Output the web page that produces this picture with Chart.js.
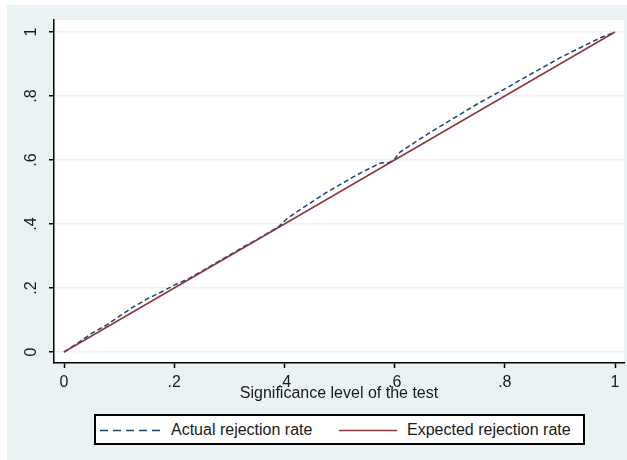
<!DOCTYPE html>
<html>
<head>
<meta charset="utf-8">
<script src="https://cdn.jsdelivr.net/npm/chart.js@4.4.0/dist/chart.umd.min.js"></script>
<style>
  html, body { margin: 0; padding: 0; background: #fff; }
  #wrap { position: relative; width: 627px; height: 460px; }
  #chart { position: absolute; left: 0; top: 0; }
  #legend {
    position: absolute; left: 94px; top: 414px; width: 491px; height: 31px;
    box-sizing: border-box; border: 2px solid #000; background: #fff;
    font-family: "Liberation Sans", Arial, sans-serif; font-size: 16px; color: #1a1a1a;
  }
  #legend span { position: absolute; line-height: 16px; top: 6px; white-space: nowrap; }
  #legend svg { position: absolute; top: 13px; }
</style>
</head>
<body>
<div id="wrap">
  <canvas id="chart" width="627" height="460"></canvas>
  <div id="legend">
    <svg style="left:4px" width="62" height="3"><line x1="0" y1="1.5" x2="62" y2="1.5" stroke="#1a476f" stroke-width="1.5" stroke-dasharray="8,5"/></svg>
    <span id="lab0" style="left:75px"></span>
    <svg style="left:243px" width="58" height="3"><line x1="0" y1="1.5" x2="58" y2="1.5" stroke="#90353b" stroke-width="1.5"/></svg>
    <span id="lab1" style="left:311px"></span>
  </div>
</div>
<script>
document.addEventListener("DOMContentLoaded", function () {
    const seriesNames = ['Actual rejection rate', 'Expected rejection rate'];
    const xTitle = 'Significance level of the test';
    const tickValues = [0, 0.2, 0.4, 0.6, 0.8, 1];
    const tickLabels = ['0', '.2', '.4', '.6', '.8', '1'];

    // significance levels and the rejection rates
    const actualLevel = [0, 0.025, 0.05, 0.075, 0.1, 0.125, 0.15, 0.175, 0.2, 0.225, 0.25, 0.275, 0.3, 0.325,
        0.35, 0.375, 0.39, 0.405, 0.425, 0.45, 0.475, 0.5, 0.525, 0.55, 0.575, 0.59, 0.6, 0.61, 0.625, 0.65,
        0.675, 0.7, 0.725, 0.75, 0.775, 0.8, 0.825, 0.85, 0.875, 0.9, 0.925, 0.95, 0.975, 1];
    const actualRate = [0, 0.028, 0.058, 0.082, 0.111, 0.140, 0.165, 0.186, 0.209, 0.228, 0.252, 0.278, 0.302, 0.328,
        0.351, 0.377, 0.392, 0.417, 0.441, 0.469, 0.497, 0.522, 0.547, 0.570, 0.591, 0.592, 0.603, 0.625, 0.642, 0.670,
        0.697, 0.723, 0.749, 0.775, 0.799, 0.822, 0.847, 0.871, 0.895, 0.919, 0.941, 0.962, 0.983, 1];
    const expectedLevel = [0, 0.1, 0.2, 0.3, 0.4, 0.5, 0.6, 0.7, 0.8, 0.9, 1];
    const expectedRate = [0, 0.1, 0.2, 0.3, 0.4, 0.5, 0.6, 0.7, 0.8, 0.9, 1];

    document.getElementById('lab0').textContent = seriesNames[0];
    document.getElementById('lab1').textContent = seriesNames[1];

    const font = '16px "Liberation Sans", Arial, sans-serif';

    const stataLook = {
        id: 'stataLook',
        beforeDraw(chart) {
            const ctx = chart.ctx, a = chart.chartArea;
            ctx.save();
            ctx.fillStyle = '#fff';
            ctx.fillRect(0, 0, chart.width, chart.height);
            ctx.fillStyle = '#eaf2f3';
            ctx.fillRect(7, 5, chart.width - 7, chart.height - 5);
            ctx.fillStyle = '#fff';
            ctx.fillRect(a.left, a.top, a.right - a.left, a.bottom - a.top);
            ctx.restore();
        },
        afterDraw(chart) {
            const ctx = chart.ctx, xs = chart.scales.x, ys = chart.scales.y, a = chart.chartArea;
            ctx.save();
            ctx.fillStyle = '#1a1a1a';
            ctx.font = font;
            ctx.textAlign = 'center';
            ctx.textBaseline = 'middle';
            tickValues.forEach(function (v, i) {
                ctx.fillText(tickLabels[i], xs.getPixelForValue(v), 383);
                ctx.save();
                ctx.translate(32, ys.getPixelForValue(v));
                ctx.rotate(-Math.PI / 2);
                ctx.fillText(tickLabels[i], 0, 0);
                ctx.restore();
            });
            ctx.fillText(xTitle, (a.left + a.right) / 2, 394);
            ctx.restore();
        }
    };

    const setTicks = function (scale) {
        scale.ticks = tickValues.map(function (v) { return { value: v }; });
    };

    const ctx = document.getElementById('chart').getContext('2d');
    new Chart(ctx, {
        type: 'scatter',
        data: {
            datasets: [{
                label: seriesNames[0],
                data: actualLevel.map(function (x, i) { return { x: x, y: actualRate[i] }; }),
                showLine: true,
                borderColor: '#1a476f',
                borderWidth: 1.5,
                borderDash: [5, 3],
                pointRadius: 0,
                order: 1
            }, {
                label: seriesNames[1],
                data: expectedLevel.map(function (x, i) { return { x: x, y: expectedRate[i] }; }),
                showLine: true,
                borderColor: '#90353b',
                borderWidth: 1.5,
                pointRadius: 0,
                order: 0
            }]
        },
        options: {
            responsive: false,
            animation: false,
            events: [],
            layout: { padding: { left: 0, top: 20, right: 3, bottom: 0 } },
            plugins: { legend: { display: false }, tooltip: { enabled: false } },
            scales: {
                x: {
                    type: 'linear',
                    min: -0.01815,
                    max: 1.01633,
                    afterBuildTicks: setTicks,
                    afterFit: function (s) { s.height = 97; },
                    ticks: { display: false },
                    grid: { drawOnChartArea: false, drawTicks: true, tickLength: 5, tickColor: '#000', tickWidth: 1.5 },
                    border: { color: '#000', width: 1.5 }
                },
                y: {
                    type: 'linear',
                    min: -0.034375,
                    max: 1.0375,
                    afterBuildTicks: setTicks,
                    afterFit: function (s) { s.width = 54; },
                    ticks: { display: false },
                    grid: { color: '#eaf2f3', lineWidth: 1.5, drawTicks: true, tickLength: 5, tickColor: '#000', tickWidth: 1.5 },
                    border: { color: '#000', width: 1.5 }
                }
            }
        },
        plugins: [stataLook]
    });
});
</script>
</body>
</html>
